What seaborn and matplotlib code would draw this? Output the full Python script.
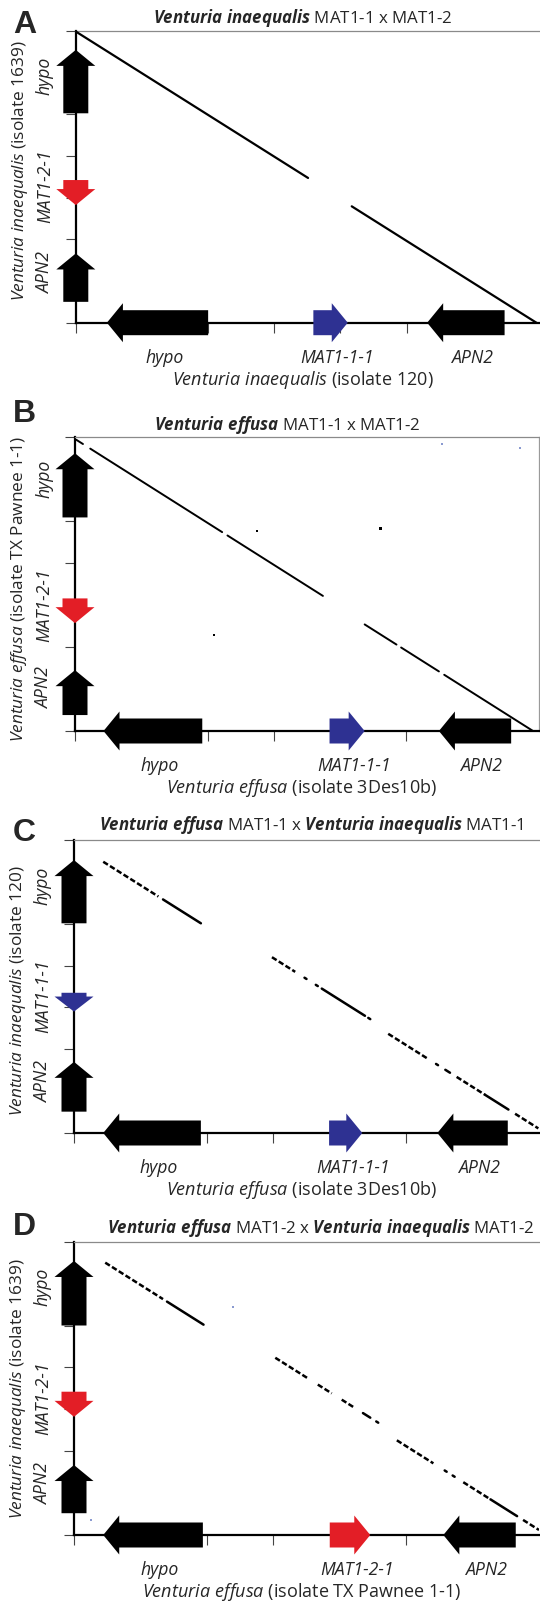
import pandas as pd
import matplotlib
matplotlib.use('Agg')
import matplotlib.pyplot as plt
import matplotlib.patches as mpatches
import seaborn as sns

sns.set_style('ticks')
plt.rcParams['font.family'] = ['Open Sans', 'DejaVu Sans']
plt.rcParams['mathtext.fontset'] = 'custom'
plt.rcParams['mathtext.rm'] = 'Open Sans'
plt.rcParams['mathtext.it'] = 'Open Sans:italic'
plt.rcParams['mathtext.bf'] = 'Open Sans:italic:bold'

# ---- data (kb) ----
letters = ['A', 'B', 'C', 'D']
titles = [r'$\mathbf{Venturia\ inaequalis}$ MAT1-1 x MAT1-2',
          r'$\mathbf{Venturia\ effusa}$ MAT1-1 x MAT1-2',
          r'$\mathbf{Venturia\ effusa}$ MAT1-1 x $\mathbf{Venturia\ inaequalis}$ MAT1-1',
          r'$\mathbf{Venturia\ effusa}$ MAT1-2 x $\mathbf{Venturia\ inaequalis}$ MAT1-2']
xlabels = [r'$\mathit{Venturia\ inaequalis}$ (isolate 120)',
           r'$\mathit{Venturia\ effusa}$ (isolate 3Des10b)',
           r'$\mathit{Venturia\ effusa}$ (isolate 3Des10b)',
           r'$\mathit{Venturia\ effusa}$ (isolate TX Pawnee 1-1)']
ylabels = [r'$\mathit{Venturia\ inaequalis}$ (isolate 1639)',
           r'$\mathit{Venturia\ effusa}$ (isolate TX Pawnee 1-1)',
           r'$\mathit{Venturia\ inaequalis}$ (isolate 120)',
           r'$\mathit{Venturia\ inaequalis}$ (isolate 1639)']

# genes: (name, start, end, strand)
xgenes_A = [('hypo', 0.47, 2.00, -1), ('MAT1-1-1', 3.59, 4.11, 1), ('APN2', 5.31, 6.48, -1)]
xgenes_B = [('hypo', 0.43, 1.92, -1), ('MAT1-1-1', 3.84, 4.37, 1), ('APN2', 5.49, 6.58, -1)]
xgenes_C = [('hypo', 0.44, 1.91, -1), ('MAT1-1-1', 3.84, 4.34, 1), ('APN2', 5.47, 6.53, -1)]
xgenes_D = [('hypo', 0.44, 1.94, -1), ('MAT1-2-1', 3.85, 4.46, 1), ('APN2', 5.56, 6.65, -1)]
ygenes_A = [('hypo', 5.02, 6.54, 1), ('MAT1-2-1', 2.82, 3.42, -1), ('APN2', 0.50, 1.66, 1)]
ygenes_B = [('hypo', 5.09, 6.62, 1), ('MAT1-2-1', 2.57, 3.16, -1), ('APN2', 0.38, 1.45, 1)]
ygenes_C = [('hypo', 5.01, 6.52, 1), ('MAT1-1-1', 2.90, 3.35, -1), ('APN2', 0.51, 1.70, 1)]
ygenes_D = [('hypo', 5.00, 6.54, 1), ('MAT1-2-1', 2.82, 3.42, -1), ('APN2', 0.52, 1.67, 1)]

# dot-plot matches: (x start, x end, offset c with y = c - x, kind)
diag_A = [(0.00, 3.51, 6.98, 'solid'), (4.17, 6.97, 6.96, 'solid')]
diag_B = [(0.02, 0.12, 6.96, 'solid'), (0.23, 2.22, 6.96, 'solid'), (2.30, 3.74, 6.96, 'solid'),
          (4.37, 4.85, 6.91, 'solid'), (4.92, 5.49, 6.91, 'solid'), (5.57, 6.92, 6.91, 'solid')]
diag_C = [(0.44, 1.27, 6.92, 'dotted'), (1.34, 1.91, 6.92, 'solid'),
          (2.98, 3.33, 7.18, 'dotted'), (3.47, 3.50, 7.18, 'solid'), (3.64, 3.67, 7.18, 'solid'),
          (3.73, 4.38, 7.18, 'solid'), (4.43, 4.46, 7.18, 'solid'),
          (4.73, 5.31, 7.10, 'dotted'), (5.45, 5.48, 7.10, 'solid'), (5.59, 5.66, 7.10, 'solid'),
          (5.76, 6.19, 7.10, 'dotted'), (6.19, 6.54, 7.10, 'solid'), (6.64, 6.99, 7.10, 'dotted')]
diag_D = [(0.47, 1.34, 6.97, 'dotted'), (1.40, 1.95, 6.97, 'solid'),
          (3.03, 3.53, 7.26, 'dotted'), (3.67, 3.88, 7.26, 'dotted'), (4.03, 4.23, 7.26, 'dotted'),
          (4.35, 4.46, 7.26, 'solid'), (4.55, 4.58, 7.26, 'solid'),
          (4.86, 5.41, 7.12, 'dotted'), (5.58, 5.61, 7.12, 'solid'), (5.70, 5.73, 7.12, 'solid'),
          (5.86, 6.27, 7.12, 'dotted'), (6.27, 6.67, 7.12, 'solid'), (6.76, 7.00, 7.12, 'dotted')]

# stray hits
stray_x = [[], [2.75, 4.61, 2.10], [], []]
stray_y = [[], [4.77, 4.83, 2.29], [], []]
faint_x = [[], [5.53, 6.72], [], [2.40, 0.25]]
faint_y = [[], [6.83, 6.75], [], [5.45, 0.36]]

xgenes = [xgenes_A, xgenes_B, xgenes_C, xgenes_D]
ygenes = [ygenes_A, ygenes_B, ygenes_C, ygenes_D]
diags = [diag_A, diag_B, diag_C, diag_D]

# ---- layout (pixels) ----
W, H = 540, 1602
boxes = [(75.8, 30.7, 322.7), (75.0, 437.3, 731.0), (74.0, 840.0, 1133.0), (74.0, 1241.7, 1535.0)]
RIGHT = 539
title_xy = [(303, 18), (287, 425), (311, 825), (321, 1228)]
letter_y = [33, 422, 841, 1235]
ylabel_shift = [6, -5, -4, 0]
diag_lw = [1.6, 1.4, 1.8, 1.8]

RED, BLUE = '#e31e26', '#2e3192'


def gene_color(name):
    if name.startswith('MAT1-1'):
        return BLUE
    if name.startswith('MAT1-2'):
        return RED
    return 'black'


def gene_arrow(ax, start, end, strand, color, axis, pp_along, pp_across):
    bw, hw, hl = 12.5, 19.5, 16.0
    hl_d = min(hl, (end - start) * pp_along * 0.8) / pp_along
    if strand > 0:
        hb = end - hl_d
        pts = [(start, -bw), (hb, -bw), (hb, -hw), (end, 0), (hb, hw), (hb, bw), (start, bw)]
    else:
        hb = start + hl_d
        pts = [(end, -bw), (hb, -bw), (hb, -hw), (start, 0), (hb, hw), (hb, bw), (end, bw)]
    if axis == 'x':
        pts = [(a, c / pp_across) for a, c in pts]
    else:
        pts = [(c / pp_across, a) for a, c in pts]
    ax.add_patch(mpatches.Polygon(pts, closed=True, facecolor=color, edgecolor='none',
                                  clip_on=False, zorder=5))


fig = plt.figure(figsize=(W / 100, H / 100), dpi=100)

for i in range(4):
    left, top, bottom = boxes[i]
    ax = fig.add_axes([left / W, 1 - bottom / H, (RIGHT - left) / W, (bottom - top) / H])
    ppx = (RIGHT - left) / 7.0
    ppy = (bottom - top) / 7.0

    rows = []
    for k, (x0, x1, c, kind) in enumerate(diags[i]):
        rows.append({'piece': k, 'x': x0, 'y': c - x0, 'kind': kind})
        rows.append({'piece': k, 'x': x1, 'y': c - x1, 'kind': kind})
    df = pd.DataFrame(rows)
    sns.lineplot(data=df, x='x', y='y', units='piece', style='kind',
                 dashes={'solid': '', 'dotted': (2.2, 1.0)}, estimator=None, sort=False,
                 color='black', lw=diag_lw[i], legend=False, ax=ax, zorder=3)
    if stray_x[i]:
        sns.scatterplot(x=stray_x[i], y=stray_y[i], marker='s', s=3, color='black',
                        edgecolor='none', ax=ax, legend=False)
    if faint_x[i]:
        sns.scatterplot(x=faint_x[i], y=faint_y[i], marker='s', s=2, color='#8a9ad0',
                        edgecolor='none', ax=ax, legend=False)

    ax.set_xlim(0, 7)
    ax.set_ylim(0, 7)
    ax.set_xticks(range(0, 7))
    ax.set_yticks(range(0, 8))
    ax.set_xticklabels([])
    ax.set_yticklabels([])
    ax.tick_params(direction='out', length=7.2, width=0.8, color='#444444')
    ax.set_xlabel('')
    ax.set_ylabel('')
    for s in ['left', 'bottom']:
        ax.spines[s].set_linewidth(1.6)
        ax.spines[s].set_color('black')
    ax.spines['top'].set_linewidth(0.9)
    ax.spines['top'].set_color('#8a8a8a')
    if i == 1:
        ax.spines['right'].set_linewidth(0.9)
        ax.spines['right'].set_color('#9a9a9a')
    else:
        ax.spines['right'].set_visible(False)

    for name, s0, s1, strand in xgenes[i]:
        gene_arrow(ax, s0, s1, strand, gene_color(name), 'x', ppx, ppy)
        ax.annotate(name, xy=((s0 + s1) / 2, 0), xytext=(7, -35), textcoords='offset pixels',
                    ha='center', va='center', fontsize=12.7, fontstyle='italic')
    for name, s0, s1, strand in ygenes[i]:
        gene_arrow(ax, s0, s1, strand, gene_color(name), 'y', ppy, ppx)
        ax.annotate(name, xy=(0, (s0 + s1) / 2), xytext=(-31, 6), textcoords='offset pixels',
                    ha='center', va='center', rotation=90, fontsize=12.7, fontstyle='italic')

    ax.annotate(xlabels[i], xy=(0.5, 0), xycoords='axes fraction', xytext=(-5, -57),
                textcoords='offset pixels', ha='center', va='center', fontsize=13)
    ax.annotate(ylabels[i], xy=(0, 0.5), xycoords='axes fraction', xytext=(-56, ylabel_shift[i]),
                textcoords='offset pixels', ha='center', va='center', rotation=90, fontsize=12.4)

    tx, ty = title_xy[i]
    fig.text(tx / W, 1 - ty / H, titles[i], ha='center', va='center', fontsize=12.2)
    fig.text(13 / W, 1 - letter_y[i] / H, letters[i], ha='left', va='baseline',
             fontsize=23, fontweight='bold', family='Liberation Sans')

fig.savefig('out.png', dpi=100)
